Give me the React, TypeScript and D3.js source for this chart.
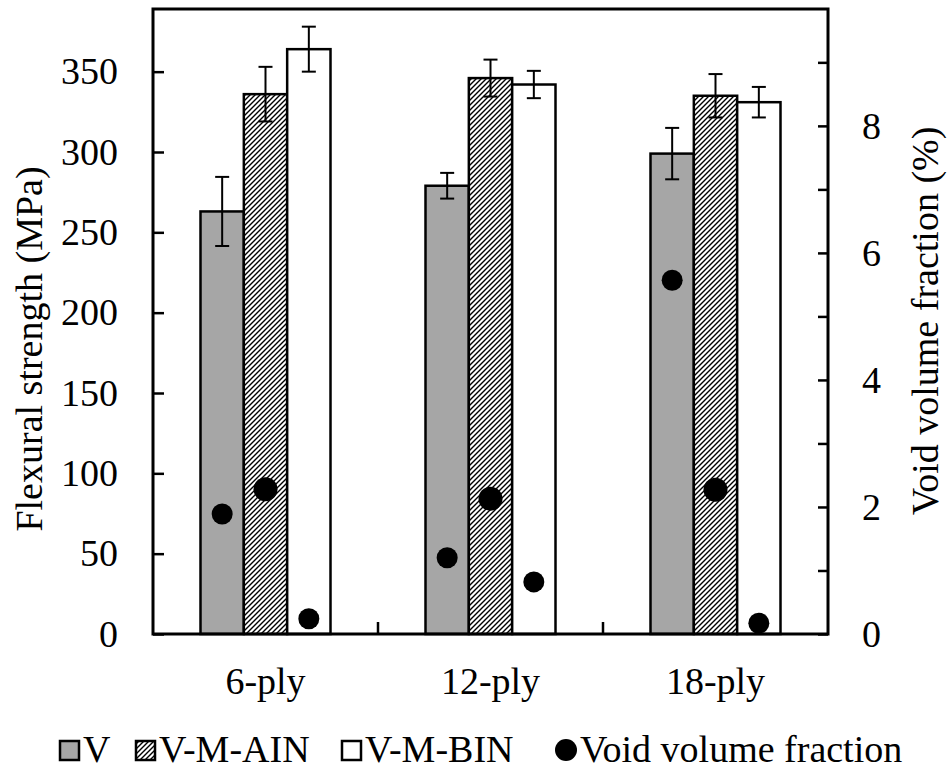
import React, { useEffect, useRef } from 'react';
import * as d3 from 'd3';

const CATEGORIES = ['6-ply', '12-ply', '18-ply'];
const SERIES = ['V', 'V-M-AIN', 'V-M-BIN'];

// flexural strength (MPa), mean and error
const V_STRENGTH = [263, 279, 299];
const AIN_STRENGTH = [336, 346, 335];
const BIN_STRENGTH = [364, 342, 331];
const V_ERR = [21.5, 8, 16];
const AIN_ERR = [17, 11.5, 13.5];
const BIN_ERR = [14, 8.5, 9.5];

// void volume fraction (%)
const V_VOID = [1.89, 1.2, 5.57];
const AIN_VOID = [2.28, 2.13, 2.27];
const BIN_VOID = [0.24, 0.82, 0.17];

const LEFT_TICKS = [0, 50, 100, 150, 200, 250, 300, 350];
const RIGHT_TICKS = [0, 1, 2, 3, 4, 5, 6, 7, 8, 9];

const W = 948;
const H = 770;

const App: React.FC = () => {
  const svgRef = useRef<SVGSVGElement>(null);

  useEffect(() => {
    if (!svgRef.current) return;
    const svg = d3.select(svgRef.current);
    svg.selectAll('*').remove();

    const m = { left: 153, right: 828, top: 9, bottom: 634 };

    const defs = svg.append('defs');
    const pat = defs.append('pattern')
      .attr('id', 'hatch')
      .attr('patternUnits', 'userSpaceOnUse')
      .attr('width', 5)
      .attr('height', 5);
    pat.append('rect').attr('width', 5).attr('height', 5).attr('fill', '#fff');
    pat.append('path')
      .attr('d', 'M-1,1 l2,-2 M0,5 l5,-5 M4,6 l2,-2')
      .attr('stroke', '#000')
      .attr('stroke-width', 1.4);

    const fills = ['#a6a6a6', 'url(#hatch)', '#fff'];
    const dotR = [10.5, 12, 10.5];

    const strength = [V_STRENGTH, AIN_STRENGTH, BIN_STRENGTH];
    const errs = [V_ERR, AIN_ERR, BIN_ERR];
    const voids = [V_VOID, AIN_VOID, BIN_VOID];

    const x0 = d3.scaleBand<string>().domain(CATEGORIES).range([m.left, m.right]).padding(0);
    const x1 = d3.scaleBand<string>().domain(SERIES)
      .range([(x0.bandwidth() - 130) / 2, (x0.bandwidth() + 130) / 2]);
    const yL = d3.scaleLinear().domain([0, 389]).range([m.bottom, m.top]);
    const yR = d3.scaleLinear().domain([0, 9.84]).range([m.bottom, m.top]);

    const data = CATEGORIES.flatMap((c, ci) => SERIES.map((s, si) => ({
      c, s, si, v: strength[si][ci], e: errs[si][ci], vf: voids[si][ci],
    })));

    const g = svg.append('g');

    // bars
    g.selectAll('rect.bar')
      .data(data)
      .enter()
      .append('rect')
      .attr('class', 'bar')
      .attr('x', (d) => x0(d.c)! + x1(d.s)!)
      .attr('width', x1.bandwidth())
      .attr('y', (d) => yL(d.v))
      .attr('height', (d) => yL(0) - yL(d.v))
      .attr('fill', (d) => fills[d.si])
      .attr('stroke', '#000')
      .attr('stroke-width', 2.5);

    // error bars
    const eb = g.selectAll('g.err').data(data).enter().append('g').attr('class', 'err')
      .attr('stroke', '#000').attr('stroke-width', 2);
    const cx = (d: typeof data[0]) => x0(d.c)! + x1(d.s)! + x1.bandwidth() / 2;
    eb.append('line')
      .attr('x1', cx).attr('x2', cx)
      .attr('y1', (d) => yL(d.v + d.e)).attr('y2', (d) => yL(d.v - d.e));
    eb.append('line')
      .attr('x1', (d) => cx(d) - 7).attr('x2', (d) => cx(d) + 7)
      .attr('y1', (d) => yL(d.v + d.e)).attr('y2', (d) => yL(d.v + d.e));
    eb.append('line')
      .attr('x1', (d) => cx(d) - 7).attr('x2', (d) => cx(d) + 7)
      .attr('y1', (d) => yL(d.v - d.e)).attr('y2', (d) => yL(d.v - d.e));

    // void fraction dots
    g.selectAll('circle.dot')
      .data(data)
      .enter()
      .append('circle')
      .attr('class', 'dot')
      .attr('cx', cx)
      .attr('cy', (d) => yR(d.vf))
      .attr('r', (d) => dotR[d.si])
      .attr('fill', '#000');

    // frame
    svg.append('rect')
      .attr('x', m.left).attr('y', m.top)
      .attr('width', m.right - m.left).attr('height', m.bottom - m.top)
      .attr('fill', 'none').attr('stroke', '#000').attr('stroke-width', 3);

    // left axis
    const axL = svg.append('g')
      .attr('transform', `translate(${m.left},0)`)
      .call(d3.axisLeft(yL).tickValues(LEFT_TICKS).tickSizeInner(-11).tickSizeOuter(0).tickPadding(35));
    axL.select('.domain').remove();
    axL.attr('font-family', null).attr('font-size', null);
    axL.selectAll('line').attr('stroke', '#000').attr('stroke-width', 2.5);
    axL.selectAll('text').attr('fill', '#000');

    // right axis
    const axR = svg.append('g')
      .attr('transform', `translate(${m.right},0)`)
      .call(d3.axisRight(yR).tickValues(RIGHT_TICKS).tickSizeInner(-10).tickSizeOuter(0).tickPadding(34)
        .tickFormat((d) => ((d as number) % 2 === 0 ? String(d) : '')));
    axR.select('.domain').remove();
    axR.attr('font-family', null).attr('font-size', null);
    axR.selectAll('line').attr('stroke', '#000').attr('stroke-width', 2.5);
    axR.selectAll('text').attr('fill', '#000');

    // category boundary ticks
    svg.append('g').selectAll('line')
      .data(CATEGORIES.slice(1))
      .enter()
      .append('line')
      .attr('x1', (d) => x0(d)!).attr('x2', (d) => x0(d)!)
      .attr('y1', m.bottom).attr('y2', m.bottom - 12)
      .attr('stroke', '#000').attr('stroke-width', 2.5);

    // category labels
    svg.append('g').selectAll('text')
      .data(CATEGORIES)
      .enter()
      .append('text')
      .attr('x', (d) => x0(d)! + x0.bandwidth() / 2)
      .attr('y', 694)
      .attr('text-anchor', 'middle')
      .text((d) => d);

    // axis titles
    svg.append('text')
      .attr('transform', 'translate(42,349) rotate(-90)')
      .attr('text-anchor', 'middle')
      .text('Flexural strength (MPa)');
    svg.append('text')
      .attr('transform', 'translate(938,321) rotate(-90)')
      .attr('text-anchor', 'middle')
      .text('Void volume fraction (%)');

    // legend
    const legX = [60, 136, 342, 556];
    const leg = svg.append('g');
    SERIES.forEach((s, i) => {
      leg.append('rect')
        .attr('x', legX[i]).attr('y', 741).attr('width', 19).attr('height', 19)
        .attr('fill', fills[i]).attr('stroke', '#000').attr('stroke-width', 2.5);
      leg.append('text')
        .attr('x', legX[i] + 23).attr('y', 762)
        .text(s);
    });
    leg.append('circle')
      .attr('cx', legX[3] + 10).attr('cy', 750).attr('r', 11).attr('fill', '#000');
    leg.append('text')
      .attr('x', legX[3] + 24).attr('y', 762)
      .text('Void volume fraction');
  }, []);

  return (
    <svg
      ref={svgRef}
      width={W}
      height={H}
      viewBox={`0 0 ${W} ${H}`}
      style={{
        position: 'absolute', left: 0, top: 0, background: '#fff',
        fontFamily: 'Liberation Serif', fontSize: '38px',
      }}
    />
  );
};

export default App;
